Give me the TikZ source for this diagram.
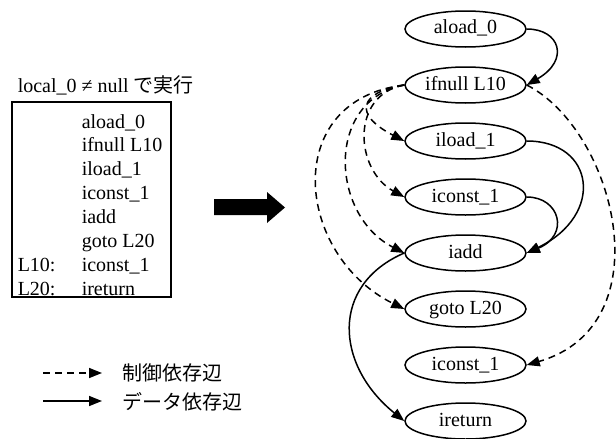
\documentclass[tikz,border=0pt]{standalone}
\usepackage{fontspec}
\setmainfont{Liberation Serif}
\newfontfamily\cjk{Noto Sans CJK JP}
\usetikzlibrary{shapes.geometric,arrows.meta}
\begin{document}
\begin{tikzpicture}[x=1pt,y=-1pt,line width=1.5pt,
  font=\fontsize{20}{24}\selectfont,
  op/.style={draw,ellipse,minimum width=121pt,minimum height=36pt,inner sep=0pt,
    text height=14pt,text depth=4pt},
  code/.style={anchor=base west,inner sep=0pt},
  tip/.style={-{Triangle[length=13pt,width=10pt]}},
  ctrl/.style={tip,dash pattern=on 7pt off 5pt},
  data/.style={tip},
  legend/.style={anchor=west,inner sep=0pt,font=\fontsize{20}{24}\cjk}]
\useasboundingbox (0,0) rectangle (616,439);

% source listing
\node[code] (title) at (17,92) {local\_0 ≠ null {\cjk で実行}};
\draw[line width=1.2pt] (12,102) rectangle (171,297);
\node[code] (c1) at (81,128.0) {aload\_0};
\node[code] (c2) at (81,151.9) {ifnull L10};
\node[code] (c3) at (81,175.8) {iload\_1};
\node[code] (c4) at (81,199.7) {iconst\_1};
\node[code] (c5) at (81,223.6) {iadd};
\node[code] (c6) at (81,247.5) {goto L20};
\node[code] (l7) at (17,271.4) {L10:};
\node[code] (c7) at (81,271.4) {iconst\_1};
\node[code] (l8) at (17,295.3) {L20:};
\node[code] (c8) at (81,295.3) {ireturn};

% block arrow
\fill (214,199) -- (267,199) -- (267,192) -- (285,207.5) -- (267,223) -- (267,215) -- (214,215) -- cycle;

% dependence graph
\node[op] (n1) at (465.5,29)  {aload\_0};
\node[op] (n2) at (465.5,85)  {ifnull L10};
\node[op] (n3) at (465.5,141) {iload\_1};
\node[op] (n4) at (465.5,197) {iconst\_1};
\node[op] (n5) at (465.5,253) {iadd};
\node[op] (n6) at (465.5,309) {goto L20};
\node[op] (n7) at (465.5,365) {iconst\_1};
\node[op] (n8) at (465.5,421) {ireturn};

% data dependences
\draw[data] (n1.east) .. controls (560,29) and (570,60) .. (n2.east);
\draw[data] (n3.east) .. controls (595,141) and (605,215) .. (n5.east);
\draw[data] (n4.east) .. controls (560,197) and (570,235) .. (n5.east);
\draw[data] (n5.west) .. controls (330,285) and (335,365) .. (n8.west);

% control dependences
\draw[ctrl] (n2.west) .. controls (360,92) and (352,114) .. (n3.west);
\draw[ctrl] (n2.west) .. controls (350,95) and (355,170) .. (n4.west);
\draw[ctrl] (n2.west) .. controls (325,100) and (330,215) .. (n5.west);
\draw[ctrl] (n2.west) .. controls (280,100) and (295,255) .. (n6.west);
\draw[ctrl] (n2.east) .. controls (615,130) and (665,325) .. (n7.east);

% legend
\coordinate (a1) at (43,373);
\coordinate (b1) at (102,373);
\coordinate (a2) at (43,401);
\coordinate (b2) at (102,401);
\draw[ctrl] (a1) -- (b1);
\draw[data] (a2) -- (b2);
\node[legend] (t1) at (122,373) {制御依存辺};
\node[legend] (t2) at (122,402) {データ依存辺};
\end{tikzpicture}
\end{document}
